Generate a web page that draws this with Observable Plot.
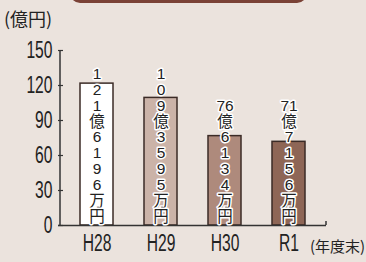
<!DOCTYPE html>
<html>
<head>
<meta charset="utf-8">
<script src="https://cdn.jsdelivr.net/npm/d3@7"></script>
<script src="https://cdn.jsdelivr.net/npm/@observablehq/plot@0.6"></script>
<style>
  html, body { margin: 0; padding: 0; background: #ebe3dd; }
  #wrap { position: relative; width: 366px; height: 262px; overflow: hidden; background: #ebe3dd; }
  #banner { position: absolute; left: 70px; top: -20px; width: 237px; height: 23px; background: #7a4236; border-radius: 10px; }
  .lab { position: absolute; font-family: "Noto Sans CJK JP", sans-serif; color: #222; white-space: nowrap; }
  svg { position: absolute; left: 0; top: 0; }
</style>
</head>
<body>
<div id="wrap">
  <div id="banner"></div>
  <div class="lab" id="unit" style="left:4px; top:6px; font-size:18px; line-height:24px;">(億円)</div>
  <div class="lab" id="xunit" style="left:310px; top:236px; font-size:15px; line-height:20px;">(年度末)</div>
</div>
<script>
const years = ["H28", "H29", "H30", "R1"];
const values = [121.6196, 109.3595, 76.6134, 71.7156];
const labelLines = [
  ["1", "2", "1", "億", "6", "1", "9", "6", "万", "円"],
  ["1", "0", "9", "億", "3", "5", "9", "5", "万", "円"],
  ["76", "億", "6", "1", "3", "4", "万", "円"],
  ["71", "億", "7", "1", "5", "6", "万", "円"]
];
const barColors = ["#ffffff", "#cbb3a8", "#ae8a7c", "#8e6656"];
const yTicks = [0, 30, 60, 90, 120, 150];

const data = years.map((y, i) => ({year: y, value: values[i], label: labelLines[i].join("\n"), color: barColors[i]}));

const W = 366, H = 262, mL = 58, mR = 40, mT = 50, mB = 37;
const axisFont = "'Liberation Sans', Arial, sans-serif";

const chart = Plot.plot({
  width: W,
  height: H,
  marginLeft: mL,
  marginRight: mR,
  marginTop: mT,
  marginBottom: mB,
  style: {background: "transparent", color: "#222", overflow: "visible"},
  x: {domain: years, paddingInner: 0.49, paddingOuter: 0.316, label: null},
  y: {domain: [0, 150], label: null},
  marks: [
    Plot.barY(data, {x: "year", y: "value", fill: "color", stroke: "#3b2b26", strokeWidth: 1.5}),
    Plot.ruleY([0], {stroke: "#333", strokeWidth: 1.5}),
    Plot.ruleX([years[0]], {x: d => d, y1: 0, y2: 150, dx: -37, stroke: "#333", strokeWidth: 1.5}),
    Plot.ruleX([years[years.length - 1]], {x: d => d, y1: 0, y2: 3.5, dx: 37, stroke: "#333", strokeWidth: 1.5}),
    Plot.tickY(yTicks, {y: d => d, insetRight: W - mL - mR - 5, stroke: "#333", strokeWidth: 1.2}),
    Plot.axisY({ticks: yTicks, tickSize: 0, tickPadding: 6, fontSize: 23, fontFamily: axisFont, label: null}),
    Plot.axisX({tickSize: 0, tickPadding: 9, fontSize: 23, fontFamily: axisFont, label: null}),
    Plot.text(data, {x: "year", y: 0, text: "label", lineAnchor: "bottom", lineHeight: 1.02, dy: -4,
      fontSize: 15.5, fill: "#222", stroke: "white", strokeWidth: 3,
      fontFamily: "'Liberation Sans', 'Noto Sans CJK JP', sans-serif"})
  ]
});
// condense the axis tick labels horizontally (narrow typeface look)
chart.querySelectorAll('g[aria-label="y-axis tick label"] text, g[aria-label="x-axis tick label"] text').forEach(t => {
  const tr = t.getAttribute("transform") || "";
  t.setAttribute("transform", tr + " scale(0.68,1)");
});
document.getElementById("wrap").appendChild(chart);
</script>
</body>
</html>
